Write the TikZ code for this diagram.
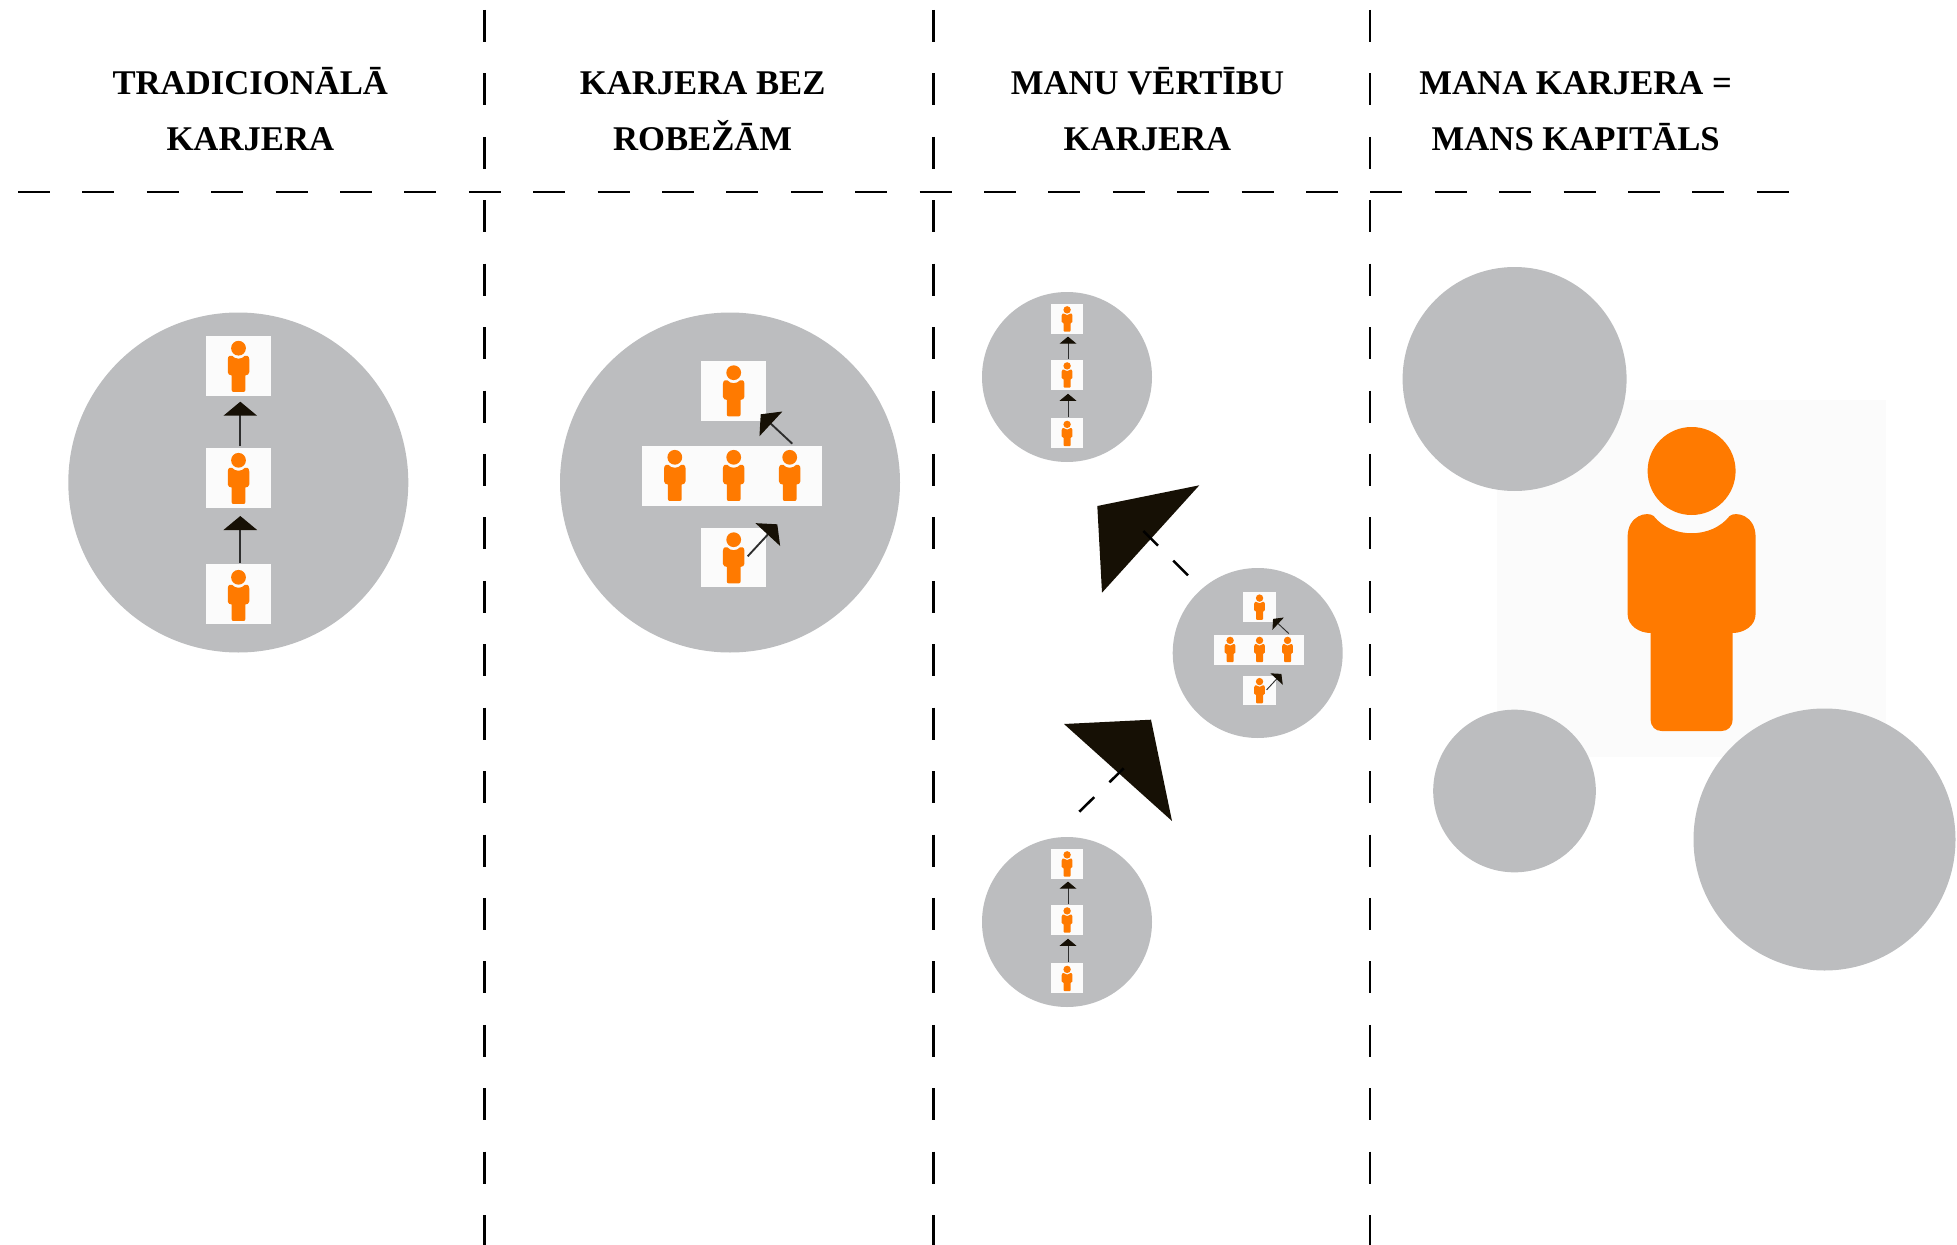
\documentclass[tikz,border=0pt]{standalone}
\usepackage{fontspec}
\setmainfont{Liberation Serif}
\usetikzlibrary{arrows.meta}
\definecolor{discgrey}{HTML}{BCBDBF}
\definecolor{panelwhite}{HTML}{FBFBFB}
\definecolor{personorange}{HTML}{FF7A00}
\definecolor{headblack}{HTML}{161005}
\definecolor{shaftgrey}{HTML}{2E2E2E}
\tikzset{
  heading/.style={font=\fontsize{26}{42}\selectfont\bfseries,align=center,inner sep=0pt,anchor=base},
  rule/.style={draw=black,line width=1.9pt},
  disc/.style={circle,fill=discgrey,inner sep=0pt,transform shape},
  panel/.style={fill=panelwhite,inner sep=0pt,minimum width=48.75pt,minimum height=45pt,transform shape},
  tip/.style={draw=shaftgrey,line width=1.4pt*#1,-{Triangle[length=10.5pt,width=25pt,scale=#1,color=headblack]}},
  bigdash/.style={draw=black,line width=1.9pt,dash pattern={on 15.6pt off 16pt}},
  every pic/.style={transform shape},
  person/.pic={
    \fill[personorange] (0,0) circle (44);
    \fill[personorange] (-38,45) .. controls (-20,68) and (20,68) .. (38,45)
      .. controls (44,40) and (64,44) .. (64,66) -- (64,143)
      .. controls (64,155) and (52,162) .. (41,162) -- (41,248)
      .. controls (41,256) and (36,260) .. (30,260) -- (-30,260)
      .. controls (-36,260) and (-41,256) .. (-41,248) -- (-41,162)
      .. controls (-52,162) and (-64,155) .. (-64,143) -- (-64,66)
      .. controls (-64,44) and (-44,40) .. (-38,45) -- cycle;
  },
  ladder/.pic={
    \node[disc,minimum size=255pt] (-disc) at (0,0) {};
    \node[panel] (-top) at (0.2,-116.5) {};
    \node[panel] (-mid) at (0.2,-4.6) {};
    \node[panel] (-low) at (0.2,111.9) {};
    \pic[scale=.168] at (0.2,-134.3) {person};
    \pic[scale=.168] at (0.2,-22.2) {person};
    \pic[scale=.168] at (0.2,94.8) {person};
    \coordinate (-a) at (2,80);
    \coordinate (-b) at (2,33.5);
    \coordinate (-c) at (2,-36.5);
    \coordinate (-d) at (2,-80.8);
    \draw[tip=#1] (-a) -- (-b);
    \draw[tip=#1] (-c) -- (-d);
  },
  spread/.pic={
    \node[disc,minimum size=255pt] (-disc) at (0,0) {};
    \node[panel] (-top) at (3.5,-91.5) {};
    \node[panel,minimum width=135pt] (-mid) at (2.3,-6.7) {};
    \node[panel,minimum height=44.25pt] (-low) at (3.5,75) {};
    \pic[scale=.168] at (3.7,-109.8) {person};
    \pic[scale=.168] at (-55.2,-25.2) {person};
    \pic[scale=.168] at (3.7,-25.2) {person};
    \pic[scale=.168] at (59.7,-25.2) {person};
    \pic[scale=.168] at (3.7,57.2) {person};
    \coordinate (-a) at (62.3,-38.8);
    \coordinate (-b) at (30.7,-68.2);
    \coordinate (-c) at (17.7,73.8);
    \coordinate (-d) at (47.3,41.8);
    \draw[tip=#1] (-a) -- (-b);
    \draw[tip=#1] (-c) -- (-d);
  }
}
\begin{document}
\begin{tikzpicture}[x=0.75pt,y=-0.75pt]
  \useasboundingbox (0,0) rectangle (1957,1245);
  \coordinate (vone) at (484.5,10);
  \coordinate (vonee) at (484.5,1245);
  \coordinate (vtwo) at (933.5,10);
  \coordinate (vtwoe) at (933.5,1245);
  \coordinate (vthree) at (1370,10);
  \coordinate (vthreee) at (1370,1245);
  \coordinate (hleft) at (18,192);
  \coordinate (hright) at (1790,192);
  \draw[rule,dash pattern={on 24pt off 23.57pt}] (vone) -- (vonee);
  \draw[rule,dash pattern={on 24pt off 23.57pt}] (vtwo) -- (vtwoe);
  \draw[rule,dash pattern={on 24pt off 23.57pt}] (vthree) -- (vthreee);
  \draw[rule,dash pattern={on 24pt off 24.3pt}] (hleft) -- (hright);

  \node[heading] (headone) at (250.3,151) {TRADICIONĀLĀ\\KARJERA};
  \node[heading] (headtwo) at (702.6,151) {KARJERA BEZ\\ROBEŽĀM};
  \node[heading] (headthree) at (1147.5,151) {MANU VĒRTĪBU\\KARJERA};
  \node[heading] (headfour) at (1575.7,151) {MANA KARJERA =\\MANS KAPITĀLS};

  \pic (ladone) at (238.3,482.5) {ladder=1};
  \pic (sprone) at (730,482.5) {spread=1};
  \pic[scale=.5] (ladtwo) at (1067,377) {ladder=.5};
  \pic[scale=.5] (ladthree) at (1067,922) {ladder=.5};
  \pic[scale=.5] (sprtwo) at (1257.7,653) {spread=.5};

  \fill[headblack] (1097.3,506) -- (1199.3,485.3) -- (1102,592.7) -- cycle;
  \fill[headblack] (1064,724) -- (1151,719.7) -- (1172,821) -- cycle;
  \coordinate (upgo) at (1188,575.3);
  \coordinate (upend) at (1143.3,531);
  \coordinate (lowgo) at (1079.3,811.7);
  \coordinate (lowend) at (1123.7,768.3);
  \draw[bigdash] (upgo) -- (upend);
  \draw[bigdash] (lowgo) -- (lowend);

  \node[panel,minimum width=291.75pt,minimum height=267.75pt] (bigpanel) at (1691.5,578.5) {};
  \pic at (1691.6,471) {person};
  \node[disc,minimum size=168pt] (capone) at (1514.6,379) {};
  \node[disc,minimum size=122pt] (captwo) at (1514.5,791) {};
  \node[disc,minimum size=196.5pt] (capthree) at (1824.5,839.5) {};
\end{tikzpicture}
\end{document}
